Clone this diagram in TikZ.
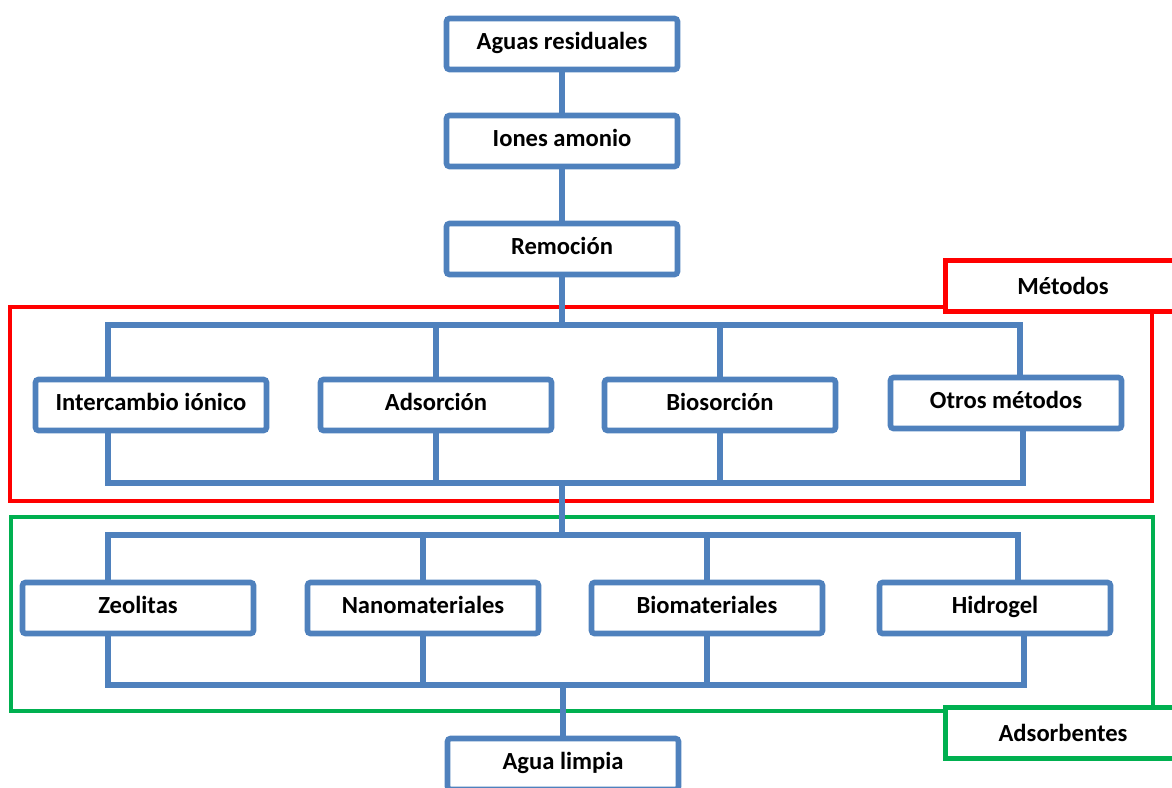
\documentclass[tikz,border=0pt]{standalone}
\usepackage{fontspec}
\setmainfont{Carlito}
\usetikzlibrary{positioning}
\definecolor{FlowBlue}{RGB}{79,129,189}
\definecolor{FrameRed}{RGB}{255,0,0}
\definecolor{FrameGreen}{RGB}{0,176,80}
\tikzset{
  flowbox/.style={draw=FlowBlue,line width=3.2pt,rounded corners=0.6mm,fill=white,
    minimum width=4.62cm,minimum height=1.02cm,align=center,
    text height=0.9em,text depth=0.26em,
    font=\fontsize{14}{16}\selectfont\bfseries},
  link/.style={draw=FlowBlue,line width=3.2pt,line cap=rect},
  redframe/.style={draw=FrameRed,line width=2.6pt},
  greenframe/.style={draw=FrameGreen,line width=2.4pt},
  redtag/.style={draw=FrameRed,line width=2.6pt,fill=white,
    minimum width=4.7cm,minimum height=1.02cm,align=center,
    font=\fontsize{14}{16}\selectfont\bfseries},
  greentag/.style={draw=FrameGreen,line width=2.4pt,fill=white,
    minimum width=4.7cm,minimum height=1.02cm,align=center,
    font=\fontsize{14}{16}\selectfont\bfseries},
}
\begin{document}
\begin{tikzpicture}[x=0.02cm, y=-0.02cm]
  \useasboundingbox (0,0) rectangle (1172,787);
  % frames
  \coordinate (redA) at (10,307);
  \coordinate (redB) at (1152,501);
  \coordinate (grnA) at (11,517);
  \coordinate (grnB) at (1153,711);
  \draw[redframe] (redA) rectangle (redB);
  \draw[greenframe] (grnA) rectangle (grnB);
  % main chain
  \node[flowbox] (aguas) at (562,44) {Aguas residuales};
  \node[flowbox] (iones) at (562,141) {Iones amonio};
  \node[flowbox] (remo) at (562,249) {Remoción};
  % metodos
  \node[flowbox] (inter) at (151,405) {Intercambio iónico};
  \node[flowbox] (adso) at (436,405) {Adsorción};
  \node[flowbox] (bios) at (720,405) {Biosorción};
  \node[flowbox] (otros) at (1006,403) {Otros métodos};
  % adsorbentes
  \node[flowbox] (zeol) at (138,608) {Zeolitas};
  \node[flowbox] (nano) at (423,608) {Nanomateriales};
  \node[flowbox] (biom) at (707,608) {Biomateriales};
  \node[flowbox] (hidro) at (995,608) {Hidrogel};
  \node[flowbox] (limpia) at (563,764) {Agua limpia};
  % tags
  \node[redtag] (metodos) at (1063,286) {Métodos};
  \node[greentag] (adsorb) at (1063,733) {Adsorbentes};
  % buses
  \coordinate (bus1a) at (108,325);
  \coordinate (bus1b) at (1020,325);
  \coordinate (bus2a) at (108,483);
  \coordinate (bus2b) at (1023,483);
  \coordinate (bus3a) at (108,535);
  \coordinate (bus3b) at (1018,535);
  \coordinate (bus4a) at (108,685);
  \coordinate (bus4b) at (1024,685);
  \draw[link] (aguas) -- (iones);
  \draw[link] (iones) -- (remo);
  \draw[link] (remo.south) -- (remo |- bus1a);
  \draw[link] (bus1a |- inter.north) -- (bus1a) -- (bus1b) -- (bus1b |- otros.north);
  \draw[link] (adso.north) -- (adso |- bus1a);
  \draw[link] (bios.north) -- (bios |- bus1a);
  \draw[link] (bus2a |- inter.south) -- (bus2a) -- (bus2b) -- (bus2b |- otros.south);
  \draw[link] (adso.south) -- (adso |- bus2a);
  \draw[link] (bios.south) -- (bios |- bus2a);
  \draw[link] (remo |- bus2a) -- (remo |- bus3a);
  \draw[link] (bus3a |- zeol.north) -- (bus3a) -- (bus3b) -- (bus3b |- hidro.north);
  \draw[link] (nano.north) -- (nano |- bus3a);
  \draw[link] (biom.north) -- (biom |- bus3a);
  \draw[link] (bus4a |- zeol.south) -- (bus4a) -- (bus4b) -- (bus4b |- hidro.south);
  \draw[link] (nano.south) -- (nano |- bus4a);
  \draw[link] (biom.south) -- (biom |- bus4a);
  \draw[link] (limpia |- bus4a) -- (limpia.north);
\end{tikzpicture}
\end{document}
